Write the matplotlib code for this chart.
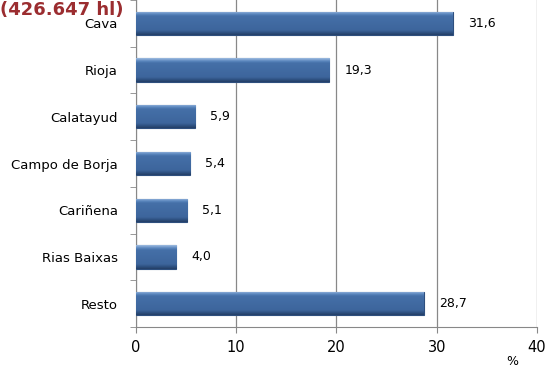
import matplotlib.pyplot as plt
import numpy as np
from matplotlib.colors import LinearSegmentedColormap

categories = ["Cava", "Rioja", "Calatayud", "Campo de Borja", "Cariñena", "Rias Baixas", "Resto"]
values = [31.6, 19.3, 5.9, 5.4, 5.1, 4.0, 28.7]
labels = ["31,6", "19,3", "5,9", "5,4", "5,1", "4,0", "28,7"]
xticks = [0, 10, 20, 30, 40]

fig = plt.figure(figsize=(5.48, 3.70), dpi=100)
ax = fig.add_axes([0.248, 0.116, 0.732, 0.884])

y = np.arange(len(categories))
bars = ax.barh(y, values, height=0.5, color="#41699F", edgecolor="#2E4F7E", linewidth=0.8, zorder=3)

# bevel-like shading on each bar: light top rim, flat body, dark bottom rim
cmap = LinearSegmentedColormap.from_list(
    "bev", [(0.0, "#9DBBE0"), (0.12, "#5A86BE"), (0.2, "#4570A8"),
            (0.8, "#3D659C"), (0.9, "#2F5283"), (1.0, "#243F66")])
grad = np.linspace(0, 1, 64).reshape(-1, 1)
for b in bars:
    x0, y0 = b.get_x(), b.get_y()
    w, h = b.get_width(), b.get_height()
    im = ax.imshow(grad, extent=[x0, x0 + w, y0 + h, y0], aspect="auto", cmap=cmap, zorder=3.5)
    im.set_clip_path(b)

for yi, v, lab in zip(y, values, labels):
    ax.annotate(lab, (v, yi), xytext=(11, 0), textcoords="offset points",
                va="center", ha="left", fontsize=9, color="black")

ax.set_xlim(0, 40)
ax.set_ylim(len(categories) - 0.5, -0.5)
ax.set_xticks(xticks)
ax.set_xticklabels([str(t) for t in xticks], fontsize=10.5)
ax.set_yticks(y)
ax.set_yticklabels(categories, fontsize=9.5)
ax.set_yticks(np.arange(len(categories) + 1) - 0.5, minor=True)
ax.tick_params(axis="y", which="major", length=0, pad=13)
ax.tick_params(axis="y", which="minor", length=4, color="#888888")
ax.tick_params(axis="x", length=4, color="#888888", pad=5)
ax.grid(axis="x", color="#888888", linewidth=0.9, zorder=0)
for s in ["top", "right"]:
    ax.spines[s].set_visible(False)
for s in ["left", "bottom"]:
    ax.spines[s].set_color("#888888")

fig.text(0.0, 0.998, "(426.647 hl)", color="#9B2D30", fontsize=13, fontweight="bold", ha="left", va="top")
fig.text(0.935, 0.022, "%", fontsize=9, ha="center", va="center")

fig.savefig("out.png", dpi=100)
